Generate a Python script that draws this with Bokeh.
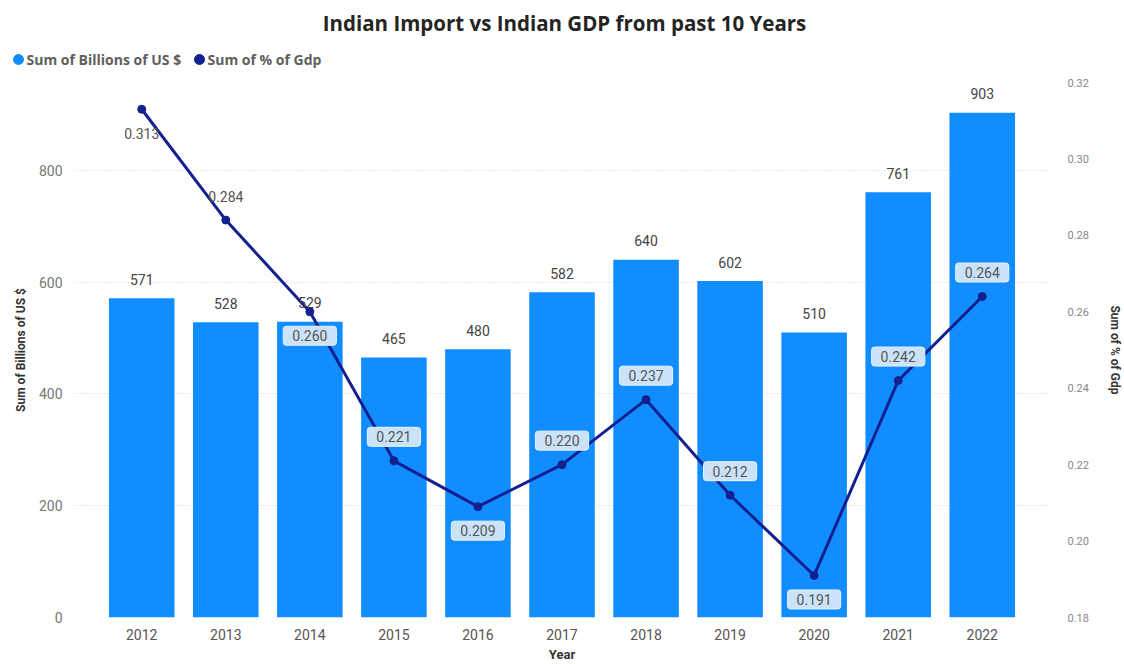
from bokeh.plotting import figure
from bokeh.layouts import column
from bokeh.models import (ColumnDataSource, FactorRange, Range1d, LinearAxis, FixedTicker,
                          CustomJSTickFormatter)
from bokeh.core.properties import value
from bokeh.embed import file_html
from bokeh.resources import INLINE

# ---- data ----
years = ["2012", "2013", "2014", "2015", "2016", "2017", "2018", "2019", "2020", "2021", "2022"]
imports_bn = [571, 528, 529, 465, 480, 582, 640, 602, 510, 761, 903]
pct_gdp = [0.313, 0.284, 0.260, 0.221, 0.209, 0.220, 0.237, 0.212, 0.191, 0.242, 0.264]
pct_label_side = ["below", "above", "below", "above", "below", "above", "above", "above", "below", "above", "above"]
pct_label_boxed = [False, False, True, True, True, True, True, True, True, True, True]
left_ticks = [0, 200, 400, 600, 800]
right_ticks = [0.18, 0.20, 0.22, 0.24, 0.26, 0.28, 0.30, 0.32]
title_text = "Indian Import vs Indian GDP from past 10 Years"
series_names = ["Sum of Billions of US $", "Sum of % of Gdp"]

BAR = "#118DFF"
LINE = "#13208F"
FONT = "Roboto"

W = 1124
HEADER_H = 70

# ---------------- header: title + legend (pixel-space figure) ----------------
hdr = figure(width=W, height=HEADER_H, x_range=Range1d(0, W), y_range=Range1d(HEADER_H, 0),
             output_backend="svg", toolbar_location=None, title=None,
             x_axis_location=None, y_axis_location=None,
             min_border=0, min_border_left=0, min_border_right=0, min_border_top=0, min_border_bottom=0)
hdr.grid.visible = False
hdr.outline_line_color = None
hdr.text(x=[564], y=[22], text=[title_text], text_align="center", text_baseline="middle",
         text_font=value("Open Sans"), text_font_size="20.5px", text_font_style="bold",
         text_color="#252423")
legend_marker_x = [18, 199]
legend_text_x = [26, 207]
legend_y = 59
hdr.scatter(x=legend_marker_x, y=[legend_y, legend_y], size=10,
            fill_color=[BAR, LINE], line_color=[BAR, LINE])
hdr.text(x=legend_text_x, y=[legend_y, legend_y], text=series_names,
         text_align="left", text_baseline="middle",
         text_font=value("Open Sans"), text_font_size="14px", text_font_style="bold",
         text_color="#605E5C")

# ---------------- main chart ----------------
FRAME_TOP, FRAME_BOTTOM_GAP = 12, 46
MAIN_H = 664 - HEADER_H
frame_h = MAIN_H - FRAME_TOP - FRAME_BOTTOM_GAP   # 536 px

p = figure(width=W, height=MAIN_H,
           x_range=FactorRange(*years, range_padding=0.3, range_padding_units="absolute"),
           y_range=Range1d(0, frame_h / 0.56),
           output_backend="svg", toolbar_location=None, title=None,
           min_border_left=74, min_border_right=73, min_border_top=FRAME_TOP,
           min_border_bottom=FRAME_BOTTOM_GAP)
p.outline_line_color = None
p.background_fill_color = "white"
p.border_fill_color = "white"
p.extra_y_ranges = {"pct": Range1d(0.18, 0.32)}

# keep the two canvases independent (no frame alignment across the column)
for fig in (hdr, p):
    try:
        fig.frame_align = False
    except Exception:
        pass

src = ColumnDataSource(dict(year=years, imports=imports_bn, pct=pct_gdp,
                            imports_txt=[str(v) for v in imports_bn]))

p.vbar(x="year", top="imports", width=0.78, source=src, fill_color=BAR, line_color=None)
p.line(x="year", y="pct", source=src, y_range_name="pct", line_color=LINE, line_width=3)
p.scatter(x="year", y="pct", source=src, y_range_name="pct", size=8,
          fill_color=LINE, line_color=LINE)

# axes
p.yaxis.ticker = FixedTicker(ticks=left_ticks)
p.yaxis.axis_label = series_names[0]
ax_r = LinearAxis(y_range_name="pct", ticker=FixedTicker(ticks=right_ticks),
                  axis_label=series_names[1],
                  formatter=CustomJSTickFormatter(code="return tick.toFixed(2);"))
p.add_layout(ax_r, "right")
p.xaxis.axis_label = "Year"

for ax in [p.xaxis[0], p.yaxis[0], ax_r]:
    ax.axis_line_color = None
    ax.major_tick_line_color = None
    ax.minor_tick_line_color = None
    ax.major_label_text_font = FONT
    ax.axis_label_text_font = FONT
    ax.axis_label_text_font_style = "bold"
    ax.axis_label_text_color = "#333333"

p.yaxis[0].major_label_text_color = "#777777"
p.yaxis[0].major_label_text_font_size = "14px"
p.yaxis[0].major_label_standoff = 6
p.yaxis[0].axis_label_text_font_size = "12px"
p.yaxis[0].axis_label_standoff = 8

ax_r.major_label_text_color = "#888888"
ax_r.major_label_text_font_size = "11px"
ax_r.major_label_standoff = 12
ax_r.axis_label_text_font_size = "12px"
ax_r.axis_label_standoff = 16

p.xaxis[0].major_label_text_color = "#555555"
p.xaxis[0].major_label_text_font_size = "14px"
p.xaxis[0].major_label_standoff = 5
p.xaxis[0].axis_label_text_font_size = "13px"
p.xaxis[0].axis_label_standoff = 4

p.xgrid.grid_line_color = None
p.ygrid.grid_line_color = "#d5d5d5"
p.ygrid.grid_line_dash = "1 2"
p.ygrid.grid_line_width = 1

# bar value labels
p.text(x="year", y="imports", text="imports_txt", source=src,
       text_align="center", text_baseline="middle", y_offset=-19,
       text_font=value(FONT), text_font_size="14px", text_color="#444444")

# pct labels
def pct_source(side, boxed):
    idx = [i for i in range(len(years)) if pct_label_side[i] == side and pct_label_boxed[i] == boxed]
    return ColumnDataSource(dict(year=[years[i] for i in idx], pct=[pct_gdp[i] for i in idx],
                                 txt=["%.3f" % pct_gdp[i] for i in idx]))

for side in ["above", "below"]:
    for boxed in [True, False]:
        s = pct_source(side, boxed)
        kw = dict(x="year", y="pct", text="txt", source=s, y_range_name="pct",
                  text_align="center", text_baseline="middle",
                  y_offset=(-24 if side == "above" else 24),
                  text_font=value(FONT), text_font_size="14px", text_color="#555555")
        if boxed:
            kw.update(background_fill_color="#d6e8f8", background_fill_alpha=0.95,
                      border_line_color="#eaf3fb", border_line_width=1,
                      padding=(9, 4), border_radius=3)
        p.text(**kw)

layout = column(hdr, p, spacing=0)
open("out.html", "w").write(file_html(layout, INLINE))
